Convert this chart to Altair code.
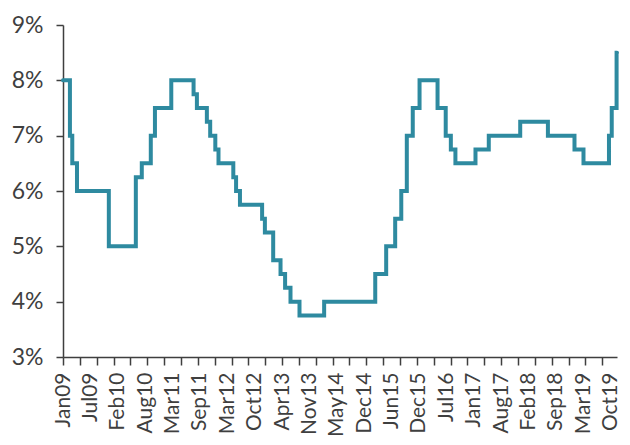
import json
from datetime import datetime, timezone

import altair as alt
import pandas as pd

# Policy-rate step changes (date the new rate takes effect, rate in %)
change_dates = [
    "2009-01-01", "2009-02-20", "2009-03-09", "2009-04-12", "2009-11-28",
    "2010-06-11", "2010-07-24", "2010-09-27", "2010-10-27", "2011-02-22",
    "2011-08-02", "2011-08-26", "2011-11-06", "2011-11-30", "2012-01-06",
    "2012-01-29", "2012-05-15", "2012-06-04", "2012-07-02", "2012-12-09",
    "2012-12-29", "2013-02-27", "2013-04-21", "2013-05-24", "2013-07-02",
    "2013-09-05", "2014-03-02", "2015-03-06", "2015-05-24", "2015-07-28",
    "2015-09-10", "2015-10-20", "2015-12-02", "2016-01-20", "2016-05-29",
    "2016-07-27", "2016-09-02", "2016-10-05", "2017-02-27", "2017-06-03",
    "2018-01-16", "2018-08-04", "2019-02-12", "2019-04-18", "2019-10-19",
    "2019-11-08", "2019-12-13", "2019-12-16",
]
rates = [
    8.00, 7.00, 6.50, 6.00, 5.00,
    6.25, 6.50, 7.00, 7.50, 8.00,
    7.75, 7.50, 7.25, 7.00, 6.75,
    6.50, 6.25, 6.00, 5.75, 5.50,
    5.25, 4.75, 4.50, 4.25, 4.00,
    3.75, 4.00, 4.50, 5.00, 5.50,
    6.00, 7.00, 7.50, 8.00, 7.50,
    7.00, 6.75, 6.50, 6.75, 7.00,
    7.25, 7.00, 6.75, 6.50, 7.00,
    7.50, 8.50, 8.50,
]

x_labels = [
    "Jan09", "Jul09", "Feb10", "Aug10", "Mar11", "Sep11", "Mar12", "Oct12",
    "Apr13", "Nov13", "May14", "Dec14", "Jun15", "Dec15", "Jul16", "Jan17",
    "Aug17", "Feb18", "Sep18", "Mar19", "Oct19",
]
y_ticks = [3, 4, 5, 6, 7, 8, 9]

df = pd.DataFrame({"date": change_dates, "rate": rates})


def ms(s):
    return int(datetime.strptime(s, "%Y-%m-%d").replace(tzinfo=timezone.utc).timestamp() * 1000)


# category-style axis: 264 evenly spaced semi-monthly slots, label every 13, tick every 8
t0 = ms("2009-01-01")
t1 = ms("2019-12-16")
slot = (t1 - t0) / 263.0
label_values = [int(round(t0 + i * 13 * slot)) for i in range(len(x_labels))]
tick_values = [int(round(t0 + j * 8 * slot)) for j in range(33)]
all_values = sorted(set(label_values) | set(tick_values))

lv = json.dumps(label_values)
tv = json.dumps(tick_values)
v = "toNumber(datum.value)"
label_expr = "indexof(%s, %s) >= 0 ? %s[indexof(%s, %s)] : ''" % (
    lv, v, json.dumps(x_labels), lv, v)
tick_test = "indexof(%s, %s) >= 0" % (tv, v)

FONT = "Lato"
AX = "#3f3f3f"
LINE = "#2e8aa0"

chart = alt.Chart(df).mark_line(
    interpolate="step-after", color=LINE, strokeWidth=4, strokeCap="round"
).encode(
    x=alt.X("date:T", scale=alt.Scale(domain=[t0, t1]), axis=alt.Axis(
        values=all_values, labelExpr=label_expr, labelAngle=270,
        labelOverlap=False, labelFlush=False, labelBound=False,
        labelFont=FONT, labelFontSize=21, labelColor=AX, labelPadding=7,
        ticks=True, tickSize=8, tickColor=AX, tickWidth=1.5,
        tickOpacity={"condition": {"test": tick_test, "value": 1}, "value": 0},
        domain=True, domainColor=AX, domainWidth=1.5, grid=False, title=None)),
    y=alt.Y("rate:Q", scale=alt.Scale(domain=[3, 9]), axis=alt.Axis(
        values=y_ticks, labelExpr="datum.value + '%'", grid=False, title=None,
        tickSize=7, tickColor=AX, tickWidth=1.5, domainColor=AX, domainWidth=1.5,
        labelFont=FONT, labelFontSize=23, labelColor=AX, labelPadding=13)),
).properties(
    width=554, height=332,
    autosize=alt.AutoSizeParams(type="none"),
    padding={"left": 55, "top": 17, "right": 5, "bottom": 80},
    background="white",
).configure_view(stroke=None)

chart.save("out.html", embed_options={"renderer": "svg", "actions": False})
